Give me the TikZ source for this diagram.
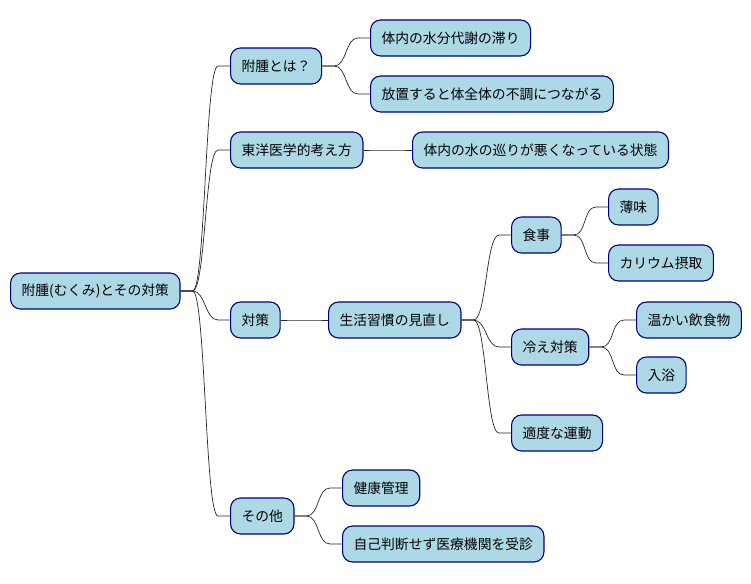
\documentclass[tikz,border=0pt]{standalone}
\usepackage{fontspec}
\setmainfont{Noto Sans CJK JP}
\usepackage{tikz}
\usetikzlibrary{calc}
\definecolor{boxfill}{HTML}{ADD8E6}
\definecolor{boxline}{HTML}{000080}
\tikzset{
  topic/.style={draw=boxline, fill=boxfill, line width=1.1pt, rounded corners=10pt,
    anchor=west, minimum height=36pt, inner xsep=11pt, inner ysep=0pt,
    font=\fontsize{13.8}{16}\selectfont},
  link/.style={line width=0.7pt, color=black!85}
}
\def\branch(#1)(#2){\draw[link] (#1.east) -- ++(12,0) .. controls +(13,0) and +(-13,0) .. ($(#2.west)+(-12,0)$) -- (#2.west);}

\begin{document}
\begin{tikzpicture}[x=1pt, y=-1pt]
  %%%%% START %%%%%
  \useasboundingbox (0, 0) rectangle (751, 583);

  \node[topic] (root) at (10, 291) {附腫(むくみ)とその対策};

  \node[topic] (what) at (230, 66) {附腫とは？};
  \node[topic] (what1) at (370, 38) {体内の水分代謝の滞り};
  \node[topic] (what2) at (370, 94) {放置すると体全体の不調につながる};

  \node[topic] (east) at (230, 150) {東洋医学的考え方};
  \node[topic] (east1) at (412, 150) {体内の水の巡りが悪くなっている状態};

  \node[topic] (plan) at (230, 320) {対策};
  \node[topic] (life) at (328, 320) {生活習慣の見直し};
  \node[topic] (meal) at (511, 235) {食事};
  \node[topic] (salt) at (608, 207) {薄味};
  \node[topic] (kal) at (608, 263) {カリウム摂取};
  \node[topic] (cold) at (511, 347) {冷え対策};
  \node[topic] (warm) at (636, 320) {温かい飲食物};
  \node[topic] (bath) at (636, 375) {入浴};
  \node[topic] (move) at (511, 433) {適度な運動};

  \node[topic] (misc) at (230, 516) {その他};
  \node[topic] (misc1) at (342, 488) {健康管理};
  \node[topic] (misc2) at (342, 544) {自己判断せず医療機関を受診};

  \branch(root)(what)
  \branch(root)(east)
  \branch(root)(plan)
  \branch(root)(misc)

  \branch(what)(what1)
  \branch(what)(what2)
  \branch(east)(east1)

  \branch(plan)(life)
  \branch(life)(meal)
  \branch(life)(cold)
  \branch(life)(move)
  \branch(meal)(salt)
  \branch(meal)(kal)
  \branch(cold)(warm)
  \branch(cold)(bath)

  \branch(misc)(misc1)
  \branch(misc)(misc2)
  %%%%% END %%%%%
\end{tikzpicture}
\end{document}
